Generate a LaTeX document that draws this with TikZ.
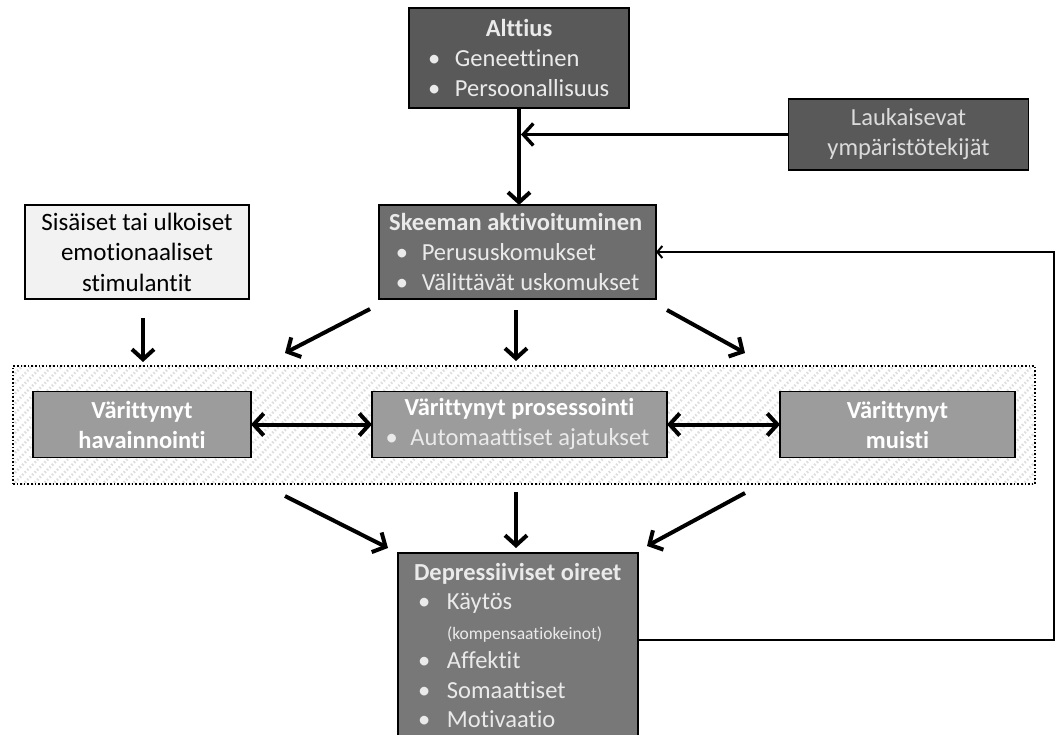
\documentclass[tikz,border=0pt]{standalone}
\usepackage{fontspec}
\setmainfont{Carlito}[RawFeature={-liga}]
\usetikzlibrary{arrows.meta,patterns.meta}

\definecolor{boxdark}{HTML}{595959}
\definecolor{boxmid}{HTML}{6E6E6E}
\definecolor{boxsymp}{HTML}{787878}
\definecolor{boxlight}{HTML}{9C9C9C}
\definecolor{boxpale}{HTML}{F2F2F2}
\definecolor{txtlight}{HTML}{EAEAEA}

% bullet item: bullet, hanging gap, then the entry
\newcommand\itm[2][27pt]{\makebox[#1][l]{\textbullet}#2}
% heading centred over a given width
\newcommand\headc[2]{\makebox[#1][c]{\bfseries #2}}

\begin{document}
\begin{tikzpicture}[x=1pt,y=1pt,
  box/.style={draw=black, line width=1.6pt, inner sep=0pt, outer sep=0pt,
    font=\fontsize{24.5}{30}\selectfont},
  darkbox/.style={box, fill=boxdark, text=txtlight},
  midbox/.style={box, fill=boxmid, text=txtlight},
  sympbox/.style={box, fill=boxsymp, text=txtlight},
  lightbox/.style={box, fill=boxlight, text=white},
  palebox/.style={box, fill=boxpale, text=black},
  bigarrow/.style={line width=4pt, -{Straight Barb[length=10pt,width=22pt]}},
  bothway/.style={line width=4pt, {Straight Barb[length=10pt,width=22pt]}-{Straight Barb[length=10pt,width=22pt]}},
  backarrow/.style={line width=2pt, -{Straight Barb[length=5pt,width=12pt]}},
]
\useasboundingbox (0,0) rectangle (1058,-735);

% hatched band holding the three coloured processes
\node[draw=black, line width=1.6pt, dotted, minimum width=1022, minimum height=118,
  pattern={Lines[angle=45,distance=7pt,line width=2.6pt]}, pattern color=black!13]
  (band) at (524,-425) {};

% predisposition
\node[darkbox, minimum width=220, minimum height=100, align=left]
  (alttius) at (519,-58)
  {\headc{182pt}{Alttius}\\ \itm{Geneettinen}\\ \itm{Persoonallisuus}};

% triggering factors
\node[darkbox, minimum width=240, minimum height=71, align=center, text=black!14]
  (lauk) at (908.5,-134.5) {Laukaisevat\\ ympäristötekijät};

% schema activation
\node[midbox, minimum width=277, minimum height=94, align=left]
  (skeema) at (517.5,-252)
  {\headc{240pt}{Skeeman aktivoituminen}\\ \itm[26pt]{Perususkomukset}\\ \itm[26pt]{Välittävät uskomukset}};

% stimuli
\node[palebox, minimum width=224, minimum height=94, align=center,
  font=\fontsize{25}{30.5}\selectfont]
  (stim) at (137,-252) {Sisäiset tai ulkoiset\\ emotionaaliset\\ stimulantit};

% coloured processes
\node[lightbox, minimum width=218, minimum height=66, align=center,
  font=\fontsize{24.5}{30}\selectfont\bfseries]
  (havain) at (142,-424.5) {Värittynyt\\ havainnointi};
\node[lightbox, minimum width=295, minimum height=66, align=left]
  (prosess) at (519.5,-424.5)
  {\headc{268pt}{Värittynyt prosessointi}\\
   {\color{txtlight}\itm[25pt]{Automaattiset ajatukset}}};
\node[lightbox, minimum width=235, minimum height=66, align=center,
  font=\fontsize{24.5}{30}\selectfont\bfseries]
  (muisti) at (897.5,-424.5) {Värittynyt\\ muisti};

% symptoms
\node[sympbox, minimum width=240, minimum height=185, align=left,
  font=\fontsize{24.5}{29.5}\selectfont]
  (oireet) at (518,-645.5)
  {\makebox[208pt][l]{\bfseries Depressiiviset oireet}\\
   \hspace*{4pt}\itm[29pt]{Käytös}\\
   \hspace*{33pt}{\fontsize{17.5}{22}\selectfont (kompensaatiokeinot)}\\
   \hspace*{4pt}\itm[29pt]{Affektit}\\
   \hspace*{4pt}\itm[29pt]{Somaattiset}\\
   \hspace*{4pt}\itm[29pt]{Motivaatio}};

% free ends of the fan-out and fan-in arrows
\coordinate (stimA) at (143,-318);  \coordinate (stimB) at (143,-362);
\coordinate (skLa)  at (370,-309);  \coordinate (skLb)  at (285,-353);
\coordinate (skMa)  at (516,-310);  \coordinate (skMb)  at (516,-361);
\coordinate (skRa)  at (667,-310);  \coordinate (skRb)  at (745,-353);
\coordinate (inLa)  at (285,-496);  \coordinate (inLb)  at (388,-548);
\coordinate (inMa)  at (516,-492);  \coordinate (inMb)  at (516,-548);
\coordinate (inRa)  at (745,-493);  \coordinate (inRb)  at (647,-546);
\coordinate (fbLow) at (1054,-640); \coordinate (fbHigh) at (1054,-252);

% connectors
\draw[bigarrow] (alttius.south) -- (alttius.south |- skeema.north);
\draw[bigarrow, line width=3.4pt, shorten >=2pt] (lauk.west) -- (lauk.west -| alttius.south);
\draw[bigarrow] (stimA) -- (stimB);
\draw[bigarrow] (skLa) -- (skLb);
\draw[bigarrow] (skMa) -- (skMb);
\draw[bigarrow] (skRa) -- (skRb);
\draw[bothway] (havain.east) -- (prosess.west);
\draw[bothway] (prosess.east) -- (muisti.west);
\draw[bigarrow] (inLa) -- (inLb);
\draw[bigarrow] (inMa) -- (inMb);
\draw[bigarrow] (inRa) -- (inRb);
\draw[backarrow] (oireet.east |- fbLow) -- (fbLow) -- (fbHigh) -- (fbHigh -| skeema.east);
\end{tikzpicture}
\end{document}
